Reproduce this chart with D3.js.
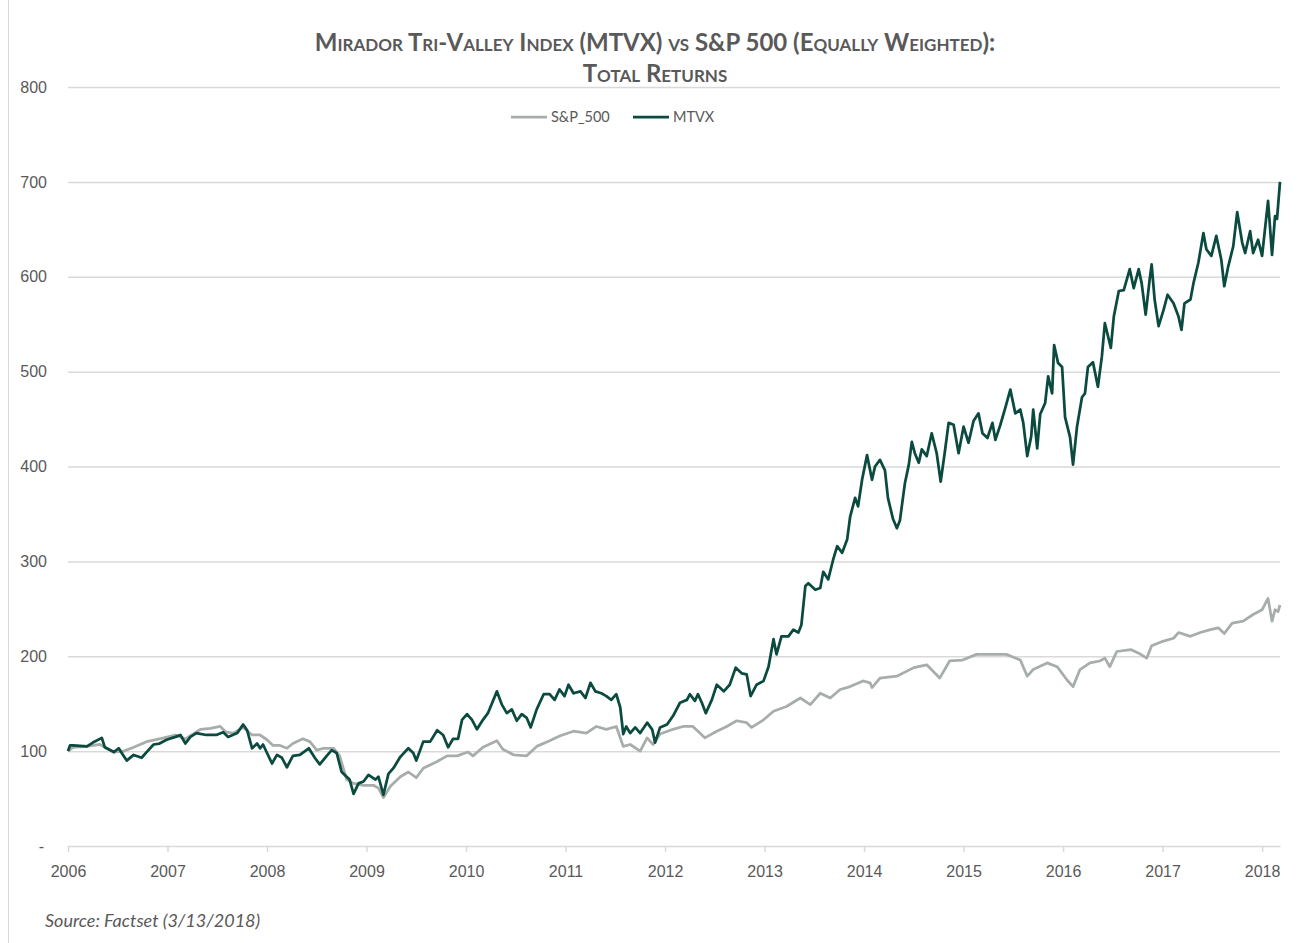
<!DOCTYPE html>
<html>
<head>
<meta charset="utf-8">
<script src="https://cdn.jsdelivr.net/npm/d3@7"></script>
<style>
  body { margin: 0; background: #fff; }
  svg { display: block; font-family: Lato, "Open Sans", sans-serif; }
</style>
</head>
<body>
<div id="chart"></div>
<script>
// series: [year, value]
const sp500 = [
  [2006.00,100],[2006.05,104],[2006.19,105],[2006.32,107],[2006.46,99],[2006.56,100],[2006.66,104],[2006.79,110],
  [2006.92,113],[2007.08,117],[2007.18,113],[2007.33,123],[2007.43,124],[2007.53,126],[2007.59,120],[2007.66,119],
  [2007.76,125],[2007.85,117],[2007.93,117],[2008.00,112],[2008.06,106],[2008.13,106],[2008.20,103],[2008.26,108],
  [2008.36,113],[2008.43,110],[2008.50,101],[2008.57,103],[2008.67,103],[2008.73,95],[2008.80,70],[2008.87,66],
  [2008.97,64],[2009.07,64],[2009.12,61],[2009.17,51],[2009.24,63],[2009.34,73],[2009.42,78],[2009.50,72],
  [2009.57,82],[2009.71,89],[2009.81,95],[2009.91,95],[2010.02,99],[2010.07,95],[2010.17,104],[2010.31,111],
  [2010.37,102],[2010.48,96],[2010.61,95],[2010.71,105],[2010.84,111],[2010.94,116],[2011.08,121],[2011.21,119],
  [2011.31,126],[2011.41,123],[2011.51,126],[2011.58,105],[2011.65,107],[2011.75,100],[2011.82,114],[2011.88,107],
  [2011.95,118],[2012.08,123],[2012.18,126],[2012.28,126],[2012.40,114],[2012.52,121],[2012.62,126],[2012.72,132],
  [2012.82,130],[2012.87,125],[2012.99,133],[2013.09,142],[2013.22,147],[2013.36,156],[2013.46,149],[2013.56,161],
  [2013.66,156],[2013.76,165],[2013.86,168],[2013.99,174],[2014.06,172],[2014.08,167],[2014.16,177],[2014.33,179],
  [2014.50,188],[2014.63,191],[2014.76,177],[2014.86,195],[2014.99,196],[2015.13,202],[2015.30,202],[2015.43,202],
  [2015.57,196],[2015.64,179],[2015.70,186],[2015.84,193],[2015.94,189],[2016.04,175],[2016.10,168],[2016.17,186],
  [2016.27,193],[2016.37,195],[2016.42,198],[2016.47,189],[2016.54,205],[2016.68,207],[2016.78,202],[2016.84,198],
  [2016.89,211],[2017.01,216],[2017.11,219],[2017.16,225],[2017.28,221],[2017.38,225],[2017.48,228],[2017.56,230],
  [2017.62,224],[2017.70,235],[2017.81,237],[2017.91,244],[2018.00,249],[2018.06,261],[2018.10,237],[2018.13,249],
  [2018.16,247],[2018.18,254]
];

const mtvx = [
  [2006.00,100],[2006.02,106],[2006.05,106],[2006.19,105],[2006.25,109],[2006.34,114],[2006.37,104],[2006.46,99],
  [2006.51,103],[2006.54,98],[2006.59,90],[2006.66,96],[2006.74,93],[2006.79,99],[2006.86,107],[2006.92,108],
  [2006.99,112],[2007.08,115],[2007.13,117],[2007.18,108],[2007.23,115],[2007.29,119],[2007.39,117],[2007.49,117],
  [2007.56,120],[2007.61,115],[2007.70,119],[2007.76,128],[2007.80,122],[2007.85,103],[2007.90,108],[2007.93,103],
  [2007.96,107],[2008.00,98],[2008.05,87],[2008.10,96],[2008.15,93],[2008.20,83],[2008.26,95],[2008.33,96],
  [2008.42,103],[2008.48,93],[2008.53,86],[2008.60,95],[2008.65,101],[2008.70,98],[2008.75,78],[2008.80,73],
  [2008.83,70],[2008.87,55],[2008.92,66],[2008.97,68],[2009.02,75],[2009.09,70],[2009.12,73],[2009.17,54],
  [2009.22,76],[2009.27,82],[2009.34,94],[2009.42,103],[2009.47,98],[2009.50,90],[2009.57,110],[2009.64,110],
  [2009.71,122],[2009.77,117],[2009.82,104],[2009.87,113],[2009.92,113],[2009.96,133],[2010.01,139],[2010.06,133],
  [2010.11,123],[2010.17,133],[2010.22,140],[2010.31,163],[2010.36,149],[2010.41,140],[2010.46,144],[2010.51,132],
  [2010.56,139],[2010.61,135],[2010.65,125],[2010.71,144],[2010.78,160],[2010.84,160],[2010.89,154],[2010.94,165],
  [2010.99,158],[2011.03,170],[2011.08,161],[2011.15,163],[2011.20,156],[2011.25,172],[2011.30,163],[2011.36,161],
  [2011.41,158],[2011.46,154],[2011.51,160],[2011.55,146],[2011.58,118],[2011.61,126],[2011.65,119],[2011.70,125],
  [2011.75,119],[2011.82,130],[2011.87,123],[2011.90,109],[2011.95,125],[2012.02,128],[2012.08,137],[2012.15,151],
  [2012.22,154],[2012.25,160],[2012.30,153],[2012.33,160],[2012.37,151],[2012.41,140],[2012.47,154],[2012.52,170],
  [2012.59,163],[2012.65,170],[2012.71,188],[2012.77,182],[2012.82,181],[2012.86,158],[2012.92,170],[2012.99,174],
  [2013.04,189],[2013.09,218],[2013.12,202],[2013.17,221],[2013.24,221],[2013.29,228],[2013.34,225],[2013.37,233],
  [2013.41,274],[2013.44,277],[2013.51,270],[2013.56,272],[2013.59,289],[2013.64,281],[2013.69,302],[2013.73,316],
  [2013.78,309],[2013.83,323],[2013.86,347],[2013.91,367],[2013.94,358],[2013.98,386],[2014.03,412],[2014.08,386],
  [2014.11,400],[2014.16,407],[2014.21,396],[2014.24,367],[2014.29,345],[2014.33,335],[2014.36,343],[2014.41,382],
  [2014.45,402],[2014.48,426],[2014.51,414],[2014.55,404],[2014.58,418],[2014.63,411],[2014.68,435],[2014.73,414],
  [2014.77,384],[2014.81,414],[2014.85,446],[2014.90,444],[2014.95,414],[2015.00,442],[2015.05,425],[2015.10,448],
  [2015.15,456],[2015.19,435],[2015.24,430],[2015.29,446],[2015.32,428],[2015.37,444],[2015.42,462],[2015.47,481],
  [2015.52,456],[2015.57,460],[2015.60,446],[2015.64,411],[2015.68,432],[2015.70,460],[2015.74,419],[2015.77,455],
  [2015.82,467],[2015.85,495],[2015.89,477],[2015.91,528],[2015.95,509],[2015.99,505],[2016.02,452],[2016.07,431],
  [2016.10,402],[2016.14,442],[2016.19,473],[2016.22,477],[2016.25,505],[2016.30,510],[2016.35,484],[2016.39,516],
  [2016.42,551],[2016.48,525],[2016.51,558],[2016.56,585],[2016.61,586],[2016.67,608],[2016.71,588],[2016.76,608],
  [2016.79,593],[2016.83,560],[2016.87,597],[2016.89,613],[2016.92,576],[2016.96,548],[2017.01,565],[2017.05,581],
  [2017.11,572],[2017.16,558],[2017.19,544],[2017.22,572],[2017.28,576],[2017.31,593],[2017.36,615],[2017.41,646],
  [2017.44,629],[2017.49,622],[2017.54,643],[2017.59,618],[2017.62,590],[2017.66,611],[2017.71,632],[2017.75,668],
  [2017.80,636],[2017.83,625],[2017.88,648],[2017.91,625],[2017.96,639],[2018.00,622],[2018.06,680],[2018.10,623],
  [2018.13,664],[2018.15,661],[2018.18,700]
];

const years = [2006, 2007, 2008, 2009, 2010, 2011, 2012, 2013, 2014, 2015, 2016, 2017, 2018];
const yTicks = [0, 100, 200, 300, 400, 500, 600, 700, 800];
const seriesNames = ["S&P_500", "MTVX"];
const seriesColors = ["#a6adaa", "#0b4b3f"];

const width = 1300, height = 943;
const plotLeft = 68, plotRight = 1280, plotTop = 87, plotBottom = 846;

const svg = d3.select('#chart')
    .append('svg')
    .attr('width', width)
    .attr('height', height);

// chart frame edge
svg.append('line')
    .attr('x1', 8.5).attr('x2', 8.5)
    .attr('y1', 0).attr('y2', height)
    .attr('stroke', '#d9d9d9')
    .attr('stroke-width', 1);

const xScale = d3.scaleLinear()
    .domain([2006, 2018.18])
    .range([plotLeft, plotRight]);

const yScale = d3.scaleLinear()
    .domain([0, 800])
    .range([plotBottom, plotTop]);

// gridlines
svg.append('g')
    .attr('transform', 'translate(' + plotLeft + ', 0)')
    .call(d3.axisLeft(yScale).tickValues(yTicks.filter(d => d > 0)).tickSize(-(plotRight - plotLeft)).tickFormat(''))
    .call(g => g.select('.domain').remove())
    .call(g => g.selectAll('line').attr('stroke', '#d9d9d9').attr('stroke-width', 1.5));

// y labels
svg.append('g')
    .attr('transform', 'translate(' + plotLeft + ', 0)')
    .call(d3.axisLeft(yScale).tickValues(yTicks).tickSize(0).tickPadding(21)
        .tickFormat(d => d === 0 ? '-' : d))
    .call(g => g.select('.domain').remove())
    .call(g => g.selectAll('text')
        .attr('fill', '#595959')
        .style('font-size', '16px')
        .attr('dx', d => d === 0 ? -3 : 0));

// x axis
svg.append('g')
    .attr('transform', 'translate(0, ' + plotBottom + ')')
    .call(d3.axisBottom(xScale).tickValues(years).tickSize(6).tickSizeOuter(0).tickPadding(14)
        .tickFormat(d3.format('d')))
    .call(g => g.select('.domain').attr('stroke', '#d9d9d9').attr('stroke-width', 1.5))
    .call(g => g.selectAll('line').attr('stroke', '#d9d9d9').attr('stroke-width', 1.5))
    .call(g => g.selectAll('text').attr('fill', '#595959').style('font-size', '16px'));

// lines
const line = d3.line()
    .x(d => xScale(d[0]))
    .y(d => yScale(d[1]));

[sp500, mtvx].forEach((data, i) => {
    svg.append('path')
        .datum(data)
        .attr('fill', 'none')
        .attr('stroke', seriesColors[i])
        .attr('stroke-width', 2.75)
        .attr('stroke-linejoin', 'round')
        .attr('d', line);
});

// legend
const legend = svg.append('g').attr('transform', 'translate(511, 117)');
const legendX = [0, 122];
seriesNames.forEach((name, i) => {
    const item = legend.append('g').attr('transform', 'translate(' + legendX[i] + ', 0)');
    item.append('line')
        .attr('x1', 0).attr('x2', 36)
        .attr('stroke', seriesColors[i])
        .attr('stroke-width', 2.75);
    item.append('text')
        .attr('x', 40)
        .attr('y', 5)
        .attr('fill', '#595959')
        .style('font-size', '14.5px')
        .text(name);
});

// title
const title = svg.append('text')
    .attr('text-anchor', 'middle')
    .attr('fill', '#595959')
    .style('font-size', '24px')
    .style('font-weight', 'bold')
    .style('font-variant', 'small-caps');
title.append('tspan').attr('x', 655).attr('y', 51)
    .text('Mirador Tri-Valley Index (MTVX) vs S&P 500 (Equally Weighted):');
title.append('tspan').attr('x', 655).attr('y', 82)
    .text('Total Returns');

// source note
svg.append('text')
    .attr('x', 45)
    .attr('y', 927)
    .attr('fill', '#595959')
    .style('font-size', '18px')
    .style('font-style', 'italic')
    .text('Source:  Factset (3/13/2018)');
</script>
</body>
</html>
